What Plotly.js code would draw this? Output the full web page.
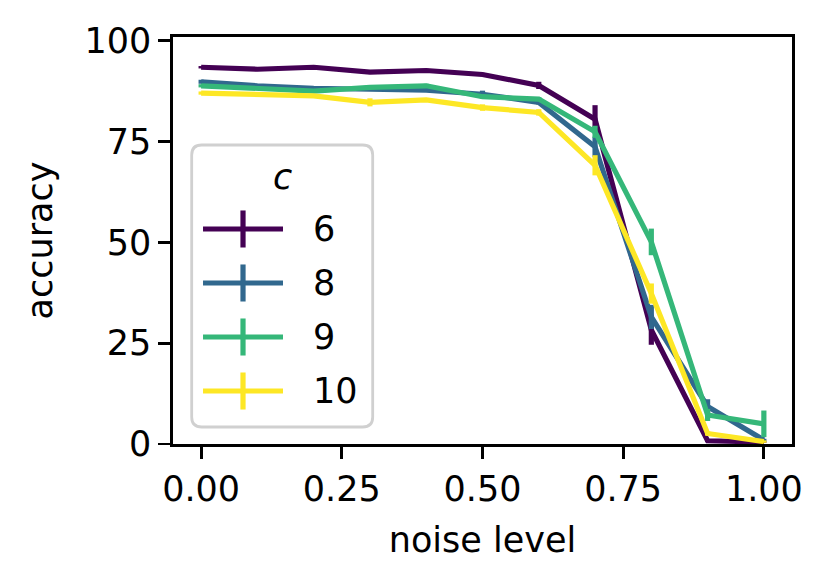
<!DOCTYPE html>
<html>
<head>
<meta charset="utf-8">
<script src="https://cdn.plot.ly/plotly-3.0.1.min.js"></script>
<style>
  body { margin: 0; background: #fff; }
  #chart { width: 831px; height: 584px; }
</style>
</head>
<body>
<div id="chart"></div>
<script>
// noise levels on the x axis
var noise = [0, 0.1, 0.2, 0.3, 0.4, 0.5, 0.6, 0.7, 0.8, 0.9, 1.0];

// legend labels (value of c) and viridis colours
var cNames = ['6', '8', '9', '10'];
var cColors = ['#440154', '#31688e', '#35b779', '#fde725'];

// mean accuracy per c
var acc6  = [93.4, 92.9, 93.4, 92.2, 92.6, 91.6, 88.9, 80.5, 28.3, 0.8, 0.5];
var acc8  = [89.8, 88.8, 88.2, 88.0, 87.7, 86.7, 84.7, 73.7, 31.5, 9.3, 1.0];
var acc9  = [88.8, 88.2, 87.5, 88.4, 88.8, 86.1, 85.5, 77.4, 50.1, 7.2, 5.0];
var acc10 = [87.0, 86.7, 86.3, 84.7, 85.3, 83.4, 82.2, 69.1, 37.3, 2.6, 0.6];

// error bar half-lengths
var err6  = [0.3, 0.3, 0.3, 0.4, 0.4, 0.4, 0.9, 3.5, 3.7, 0.3, 0.2];
var err8  = [0.5, 0.3, 0.3, 0.4, 0.3, 0.9, 0.5, 2.5, 3.0, 1.8, 0.3];
var err9  = [0.4, 0.3, 0.3, 0.4, 0.5, 0.5, 0.5, 1.5, 3.3, 1.5, 3.3];
var err10 = [0.4, 0.3, 0.3, 1.0, 0.4, 0.8, 0.8, 2.5, 2.5, 0.5, 0.3];

var xTicks = [0, 0.25, 0.5, 0.75, 1.0];
var yTicks = [0, 25, 50, 75, 100];

var accs = [acc6, acc8, acc9, acc10];
var errs = [err6, err8, err9, err10];

var font = 'DejaVu Sans, sans-serif';
var lw = 5.2;

var data = accs.map(function (a, i) {
    return {
        x: noise,
        y: a,
        type: 'scatter',
        mode: 'lines',
        name: cNames[i],
        line: {color: cColors[i], width: lw},
        error_y: {type: 'data', array: errs[i], visible: true,
                  color: cColors[i], thickness: lw, width: 0},
        showlegend: false
    };
});

// hand-made legend in the style of matplotlib (line with an error bar)
var shapes = [{
    type: 'path', layer: 'above',
    xref: 'paper', yref: 'paper',
    xsizemode: 'pixel', ysizemode: 'pixel',
    xanchor: 0.1764, yanchor: 0.3882,
    path: 'M-80.5,-141L80.5,-141Q90.5,-141 90.5,-131L90.5,131Q90.5,141 80.5,141' +
          'L-80.5,141Q-90.5,141 -90.5,131L-90.5,-131Q-90.5,-141 -80.5,-141Z',
    fillcolor: 'rgba(255,255,255,0.8)',
    line: {color: '#d0d0d0', width: 2.8}
}];
var annotations = [{
    xref: 'paper', yref: 'paper', x: 0.158, y: 0.6568,
    text: '<i>c</i>', showarrow: false,
    font: {family: font, size: 35, color: '#000'}
}];
var rowY = [0.5283, 0.3956, 0.2629, 0.1302];
cNames.forEach(function (nm, i) {
    shapes.push({
        type: 'line', layer: 'above', xref: 'paper', yref: 'paper',
        x0: 0.0485, x1: 0.1777, y0: rowY[i], y1: rowY[i],
        line: {color: cColors[i], width: lw}
    });
    shapes.push({
        type: 'line', layer: 'above', xref: 'paper', yref: 'paper',
        x0: 0.1131, x1: 0.1131, y0: rowY[i] - 0.0455, y1: rowY[i] + 0.0455,
        line: {color: cColors[i], width: lw}
    });
    annotations.push({
        xref: 'paper', yref: 'paper', x: 0.2226, y: rowY[i],
        xanchor: 'left', yanchor: 'middle',
        text: nm, showarrow: false,
        font: {family: font, size: 35, color: '#000'}
    });
});

var axisCommon = {
    showline: true, mirror: true, linecolor: '#000', linewidth: 2.8,
    ticks: 'outside', ticklen: 12, tickwidth: 2.8, tickcolor: '#000',
    showgrid: false, zeroline: false,
    tickfont: {family: font, size: 35, color: '#000'}
};

var layout = {
    width: 831,
    height: 584,
    autosize: false,
    margin: {l: 173, r: 39, t: 37, b: 140, pad: 0},
    paper_bgcolor: '#fff',
    plot_bgcolor: '#fff',
    showlegend: false,
    xaxis: Object.assign({}, axisCommon, {
        range: [-0.05, 1.05],
        tickvals: xTicks,
        ticktext: xTicks.map(function (v) { return v.toFixed(2); }),
        title: {text: 'noise level', font: {family: font, size: 35, color: '#000'}, standoff: 20}
    }),
    yaxis: Object.assign({}, axisCommon, {
        range: [0, 100.9],
        tickvals: yTicks,
        title: {text: 'accuracy', font: {family: font, size: 35, color: '#000'}, standoff: 22}
    }),
    shapes: shapes,
    annotations: annotations
};

Plotly.newPlot('chart', data, layout, {displayModeBar: false, staticPlot: true});
</script>
</body>
</html>
